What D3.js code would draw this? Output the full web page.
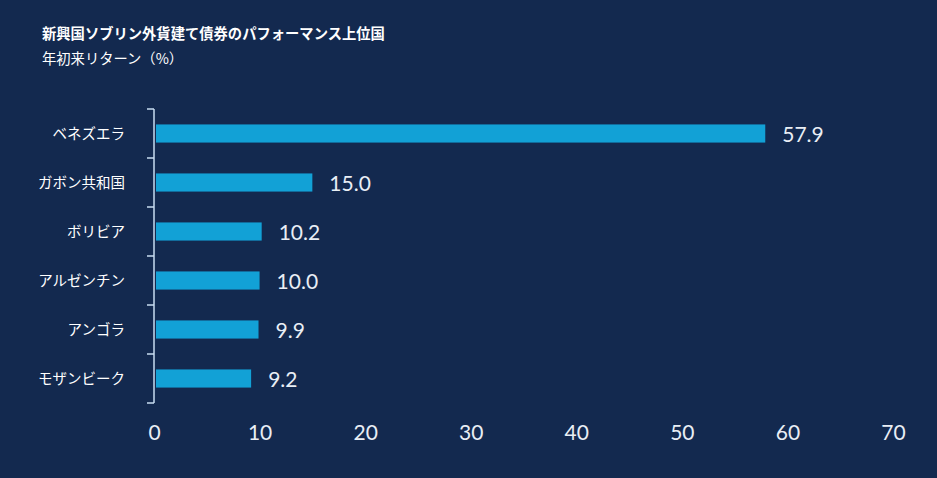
<!DOCTYPE html>
<html>
<head>
<meta charset="utf-8">
<script src="https://cdn.jsdelivr.net/npm/d3@7"></script>
<style>
  body { margin: 0; background: #13294f; }
  svg { display: block; }
</style>
</head>
<body>
<script>
// Datos
var countries = ["ベネズエラ", "ガボン共和国", "ボリビア", "アルゼンチン", "アンゴラ", "モザンビーク"];
var returns = [57.9, 15.0, 10.2, 10.0, 9.9, 9.2];
var xTicks = [0, 10, 20, 30, 40, 50, 60, 70];

var width = 937, height = 478;
var margin = {top: 109, left: 154, right: 44, bottom: 75};

var svg = d3.select("body").append("svg")
  .attr("width", width)
  .attr("height", height);

svg.append("rect").attr("width", width).attr("height", height).attr("fill", "#13294f");

// Títulos
svg.append("text")
  .attr("x", 42).attr("y", 39)
  .attr("fill", "#ffffff")
  .style("font-family", "'Noto Sans CJK JP', sans-serif")
  .style("font-weight", "bold")
  .style("font-size", "14.3px")
  .text("新興国ソブリン外貨建て債券のパフォーマンス上位国");

svg.append("text")
  .attr("x", 42).attr("y", 64)
  .attr("fill", "#ffffff")
  .style("font-family", "'Noto Sans CJK JP', sans-serif")
  .style("font-size", "14.3px")
  .text("年初来リターン（%）");

var x = d3.scaleLinear()
  .domain([0, 70])
  .range([margin.left, width - margin.right]);

var y = d3.scaleBand()
  .domain(countries)
  .range([margin.top, 403])
  .paddingInner(0.63)
  .paddingOuter(0.315);

// Barras
svg.selectAll(".bar")
  .data(countries)
  .enter().append("rect")
  .attr("class", "bar")
  .attr("x", x(0) + 2)
  .attr("y", function(d){ return y(d); })
  .attr("width", function(d, i){ return x(returns[i]) - x(0) - 2; })
  .attr("height", y.bandwidth())
  .attr("fill", "#12a1d6");

// Etiquetas de valor
svg.selectAll(".val")
  .data(countries)
  .enter().append("text")
  .attr("class", "val")
  .attr("x", function(d, i){ return x(returns[i]) + 17; })
  .attr("y", function(d){ return y(d) + y.bandwidth() / 2 + 1; })
  .attr("dy", "0.36em")
  .attr("fill", "#e9eef5")
  .style("font-family", "Lato, sans-serif")
  .style("font-size", "21px")
  .text(function(d, i){ return returns[i].toFixed(1); });

// Eje Y con ticks en los límites de banda
var yAxisG = svg.append("g");
yAxisG.append("line")
  .attr("x1", x(0)).attr("x2", x(0))
  .attr("y1", margin.top).attr("y2", 403)
  .attr("stroke", "#c9dcf0").attr("stroke-width", 1.5);

var bounds = countries.map(function(d){ return y(d) - y.step() * y.paddingInner() / 2; });
bounds.push(403);
yAxisG.selectAll(".yt")
  .data(bounds)
  .enter().append("line")
  .attr("x1", x(0) - 7).attr("x2", x(0))
  .attr("y1", function(d){ return d; }).attr("y2", function(d){ return d; })
  .attr("stroke", "#c9dcf0").attr("stroke-width", 1.5);

yAxisG.selectAll(".ylab")
  .data(countries)
  .enter().append("text")
  .attr("x", 125)
  .attr("y", function(d){ return y(d) + y.bandwidth() / 2; })
  .attr("dy", "0.36em")
  .attr("text-anchor", "end")
  .attr("fill", "#ffffff")
  .style("font-family", "'Noto Sans CJK JP', sans-serif")
  .style("font-size", "14.5px")
  .text(function(d){ return d; });

// Eje X
var xAxis = d3.axisBottom(x).tickValues(xTicks).tickSize(0).tickPadding(0);
var gx = svg.append("g")
  .attr("transform", "translate(0,424)")
  .call(xAxis);
gx.select(".domain").remove();
gx.selectAll("text")
  .attr("fill", "#e9eef5")
  .attr("dy", "0.75em")
  .style("font-family", "Lato, sans-serif")
  .style("font-size", "21px");
</script>
</body>
</html>
